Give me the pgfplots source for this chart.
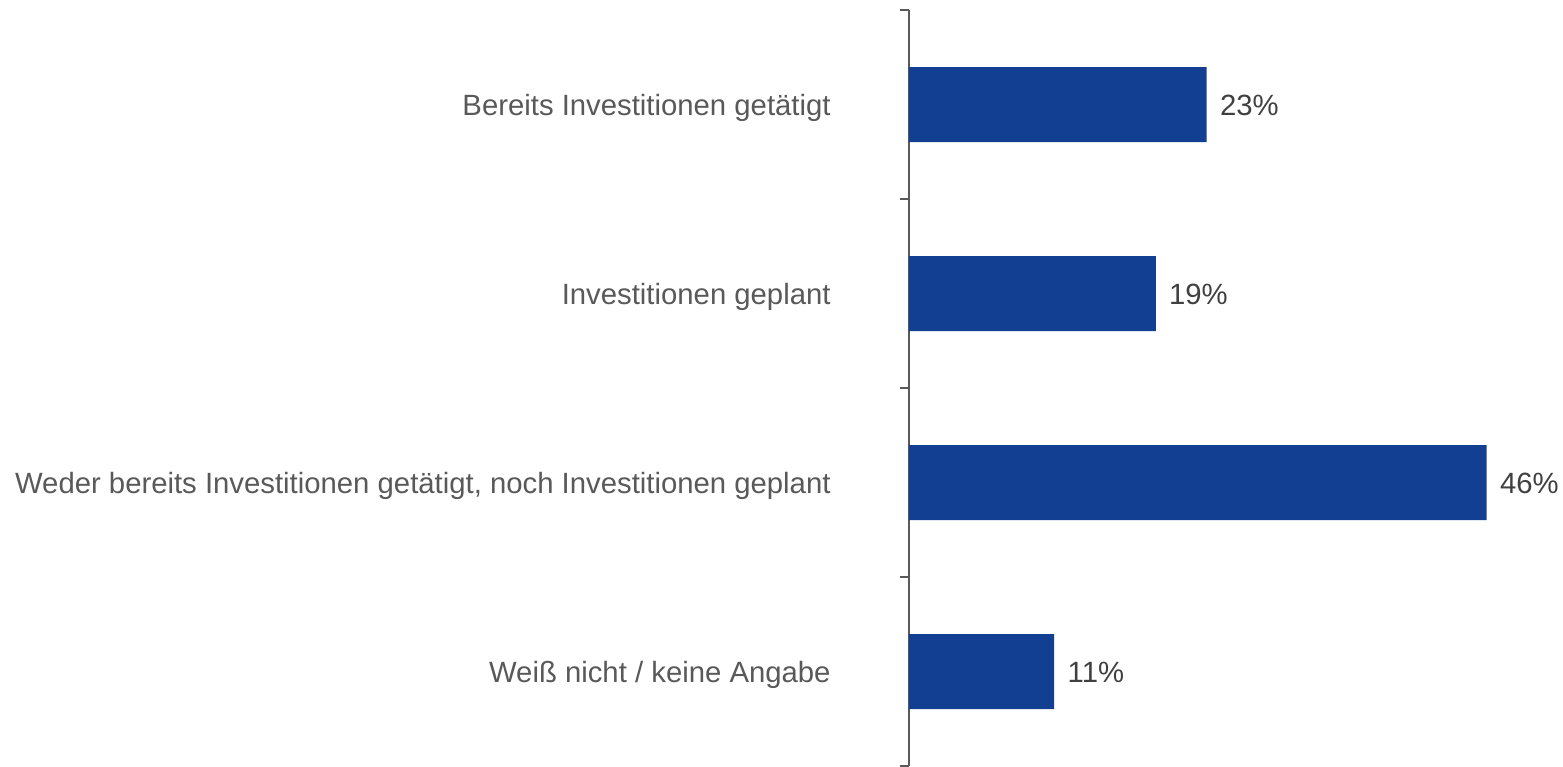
\documentclass[border=0pt]{standalone}
\usepackage{pgfplots}
\pgfplotsset{compat=1.18}
\usepackage{fontspec}
\setmainfont{Liberation Sans}
\definecolor{barblue}{HTML}{133F93}
\definecolor{cattext}{HTML}{595959}
\definecolor{valtext}{HTML}{404040}
\definecolor{axisgray}{HTML}{5A5A5A}
\newcommand\lab{\fontsize{14.65pt}{17pt}\selectfont}
\begin{document}
\begin{tikzpicture}
\path[use as bounding box] (-454.5pt,0pt) rectangle (327pt,383pt);
\begin{axis}[
  at={(0pt,0pt)}, anchor=south west,
  scale only axis,
  width=327pt, height=378pt,
  xbar, bar width=37.5pt,
  xmin=0, xmax=51.6,
  ymin=0.5, ymax=4.5,
  y dir=reverse,
  axis y line*=left,
  axis x line=none,
  y axis line style={draw=axisgray, line width=0.75pt},
  ytick={1,2,3,4},
  yticklabels={Bereits Investitionen getätigt, Investitionen geplant, {Weder bereits Investitionen getätigt, noch Investitionen geplant}, Weiß nicht / keine Angabe},
  major tick length=0pt,
  extra y ticks={0.5,1.5,2.5,3.5,4.5},
  extra y tick labels={},
  extra y tick style={major tick length=4.5pt, tick align=outside, tick style={draw=axisgray, line width=0.75pt}},
  yticklabel style={font=\lab, text=cattext, inner sep=0pt, anchor=east, xshift=-39pt, yshift=-1.5pt},
  xtick=\empty,
  point meta=x,
  nodes near coords={\pgfmathprintnumber[fixed,precision=0,assume math mode=true]{\pgfplotspointmeta}\%},
  nodes near coords style={font=\lab, text=valtext, anchor=west, inner sep=0pt, xshift=6.5pt, yshift=-0.5pt},
  clip=false,
]
\addplot[fill=barblue, draw=none] coordinates {(23.49,1) (19.47,2) (45.58,3) (11.46,4)};
\end{axis}
\end{tikzpicture}
\end{document}
